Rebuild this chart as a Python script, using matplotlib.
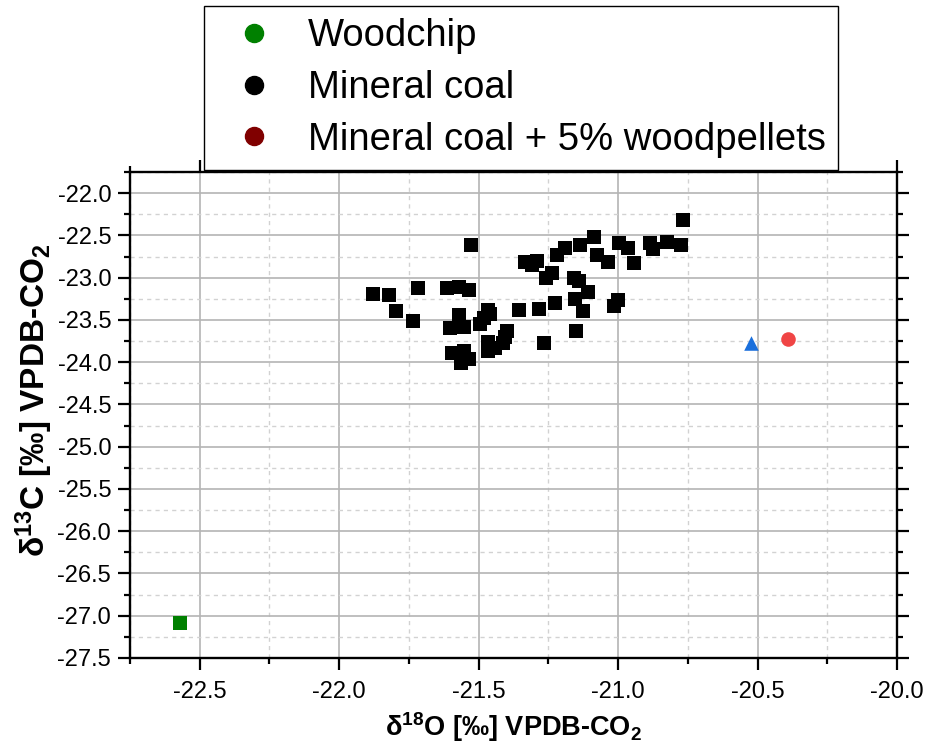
import matplotlib
matplotlib.use("Agg")
import matplotlib.pyplot as plt
from matplotlib.lines import Line2D
from matplotlib.ticker import MultipleLocator, FormatStrFormatter

plt.rcParams['font.family'] = ['Liberation Sans', 'DejaVu Sans']
plt.rcParams['mathtext.default'] = 'regular'

# Data (delta18O, delta13C)
woodchip_x = [-22.571]
woodchip_y = [-27.08]

coal_x = [-21.877, -21.823, -21.798, -21.737, -21.716, -21.615, -21.572, -21.533,
          -21.526, -21.572, -21.601, -21.551, -21.594, -21.551, -21.533, -21.565,
          -21.468, -21.458, -21.479, -21.494, -21.397, -21.404, -21.411, -21.465,
          -21.465, -21.443, -21.357, -21.282, -21.264, -21.225, -21.257, -21.236,
          -21.332, -21.307, -21.289, -21.218, -21.189, -21.135, -21.088, -21.076,
          -21.037, -20.998, -20.965, -20.942, -20.885, -20.875, -20.825, -20.775,
          -20.768, -21.157, -21.139, -21.108, -21.153, -21.126, -21.002, -21.014,
          -21.151]
coal_y = [-23.19, -23.21, -23.40, -23.51, -23.12, -23.12, -23.11, -23.15,
          -22.61, -23.44, -23.60, -23.58, -23.89, -23.87, -23.96, -24.01,
          -23.38, -23.43, -23.48, -23.55, -23.63, -23.70, -23.77, -23.76,
          -23.87, -23.83, -23.38, -23.37, -23.77, -23.30, -23.01, -22.95,
          -22.82, -22.85, -22.80, -22.73, -22.65, -22.61, -22.52, -22.73,
          -22.82, -22.59, -22.65, -22.83, -22.59, -22.66, -22.58, -22.61,
          -22.32, -23.00, -23.04, -23.17, -23.25, -23.40, -23.27, -23.34,
          -23.63]

triangle_x = [-20.524]
triangle_y = [-23.77]
circle_x = [-20.392]
circle_y = [-23.73]

legend_labels = ['Woodchip', 'Mineral coal', 'Mineral coal + 5% woodpellets']
legend_colors = ['#008000', '#000000', '#800000']

fig = plt.figure(figsize=(9.29, 7.53), dpi=100)
ax = fig.add_axes([130/929, 1-658/753, (897-130)/929, (658-172)/753])

ax.scatter(coal_x, coal_y, marker='s', s=100, color='black', zorder=3, linewidths=0)
ax.scatter(woodchip_x, woodchip_y, marker='s', s=90, color='#008000', zorder=3, linewidths=0)
ax.scatter(triangle_x, triangle_y, marker='^', s=110, color='#1a6fdc', zorder=3, linewidths=0)
ax.scatter(circle_x, circle_y, marker='o', s=110, color='#f04545', zorder=3, linewidths=0)

ax.set_xlim(-22.75, -20.0)
ax.set_ylim(-27.5, -21.75)
ax.xaxis.set_major_locator(MultipleLocator(0.5))
ax.xaxis.set_minor_locator(MultipleLocator(0.25))
ax.yaxis.set_major_locator(MultipleLocator(0.5))
ax.yaxis.set_minor_locator(MultipleLocator(0.25))
ax.xaxis.set_major_formatter(FormatStrFormatter('%.1f'))
ax.yaxis.set_major_formatter(FormatStrFormatter('%.1f'))

ax.grid(which='major', color='#b4b4b4', linewidth=1.2, linestyle='-', zorder=0)
ax.grid(which='minor', color='#d2d2d2', linewidth=1.0, linestyle=(0, (3, 3)), zorder=0)
ax.set_axisbelow(True)

for sp in ax.spines.values():
    sp.set_linewidth(1.7)
ax.tick_params(which='both', direction='out', top=True, right=True, width=1.6)
ax.tick_params(which='major', length=8.5)
ax.tick_params(which='minor', length=4.3)
ax.tick_params(axis='both', which='major', labelsize=17)
ax.tick_params(axis='x', which='major', pad=8)
ax.tick_params(axis='y', which='major', pad=5)

ax.set_xlabel(r'$\delta^{18}$O [‰] VPDB-CO$_2$', fontsize=19.5, fontweight='bold', labelpad=5)
ax.set_ylabel(r'$\delta^{13}$C [‰] VPDB-CO$_2$', fontsize=24, fontweight='bold')
ax.yaxis.set_label_coords(-0.098, 0.53)

handles = [Line2D([], [], linestyle='none', marker='o', markersize=13,
                  markerfacecolor=c, markeredgecolor=c) for c in legend_colors]
leg = fig.legend(handles, legend_labels, loc='upper left',
                 bbox_to_anchor=(204/929, 1-6/753), borderaxespad=0,
                 fontsize=27.5, frameon=True, fancybox=False, edgecolor='black',
                 framealpha=1, handlelength=1.98, handletextpad=0.42,
                 labelspacing=0.41, borderpad=0.32)
leg.get_frame().set_linewidth(1.0)

fig.savefig('out.png', dpi=100)
